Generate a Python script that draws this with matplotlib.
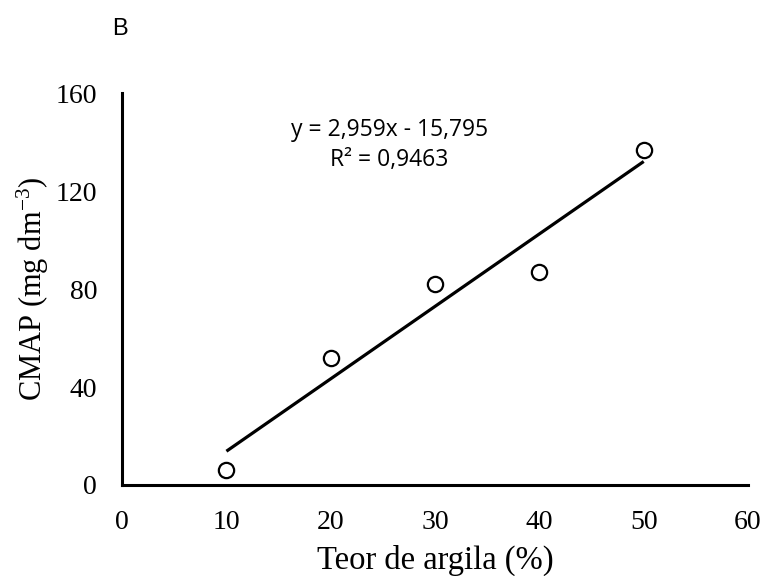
import matplotlib.pyplot as plt
import numpy as np

plt.rcParams['mathtext.fontset'] = 'custom'
plt.rcParams['mathtext.rm'] = 'Liberation Serif'
plt.rcParams['mathtext.it'] = 'Liberation Serif:italic'

# teor de argila (%) vs CMAP (mg dm-3)
argila = [10, 20, 30, 40, 50]
cmap_vals = [6, 52, 82, 87, 137]
slope, intercept = 2.959, -15.795
xticks = [0, 10, 20, 30, 40, 50, 60]
yticks = [0, 40, 80, 120, 160]

fig = plt.figure(figsize=(7.68, 5.76), dpi=100)
ax = fig.add_axes([0.159, 0.158, 0.815, 0.68])

x_fit = np.array([argila[0], argila[-1]])
ax.plot(x_fit, slope * x_fit + intercept, color='black', lw=2.3, solid_capstyle='butt')
ax.plot(argila, cmap_vals, 'o', ms=11, mfc='white', mec='black', mew=1.6)

ax.set_xlim(0, 60)
ax.set_ylim(0, 160)
ax.set_xticks(xticks)
ax.set_yticks(yticks)
ax.tick_params(axis='x', length=0, pad=18, labelsize=20)
ax.tick_params(axis='y', length=0, pad=18, labelsize=20)
for lab in ax.get_xticklabels() + ax.get_yticklabels():
    lab.set_family('Liberation Serif')

for s in ['top', 'right']:
    ax.spines[s].set_visible(False)
for s in ['left', 'bottom']:
    ax.spines[s].set_linewidth(2.2)

ax.set_xlabel('Teor de argila (%)', family='Liberation Serif', fontsize=23.5, labelpad=7)
ax.set_ylabel(r'CMAP (mg dm$^{\mathrm{-3}}$)', family='Liberation Serif', fontsize=22, labelpad=3)

ax.text(0.427, 0.868, 'y = 2,959x - 15,795\nR² = 0,9463', transform=ax.transAxes,
        ha='center', va='center', fontsize=16.5, family='Open Sans', linespacing=1.38)

fig.text(120 / 768, 1 - 29 / 576, 'B', family='Liberation Sans', fontsize=17, ha='center', va='center')

fig.savefig('out.png', dpi=100)
